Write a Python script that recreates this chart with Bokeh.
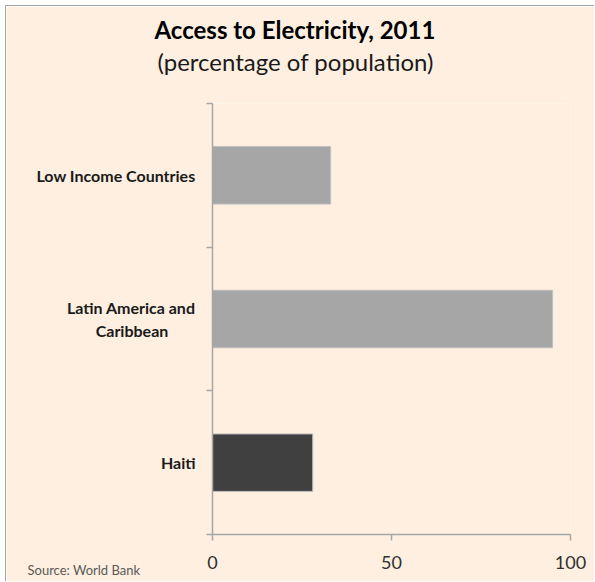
from bokeh.plotting import figure
from bokeh.models import Range1d, FixedTicker, Title
from bokeh.embed import file_html
from bokeh.resources import INLINE

# Data
categories = ["Low Income Countries", "Latin America and Caribbean", "Haiti"]
tick_labels = ["Low Income Countries", "Latin America and\nCaribbean\u00a0\u00a0\u00a0\u00a0\u00a0\u00a0\u00a0", "Haiti"]
values = [33, 95, 28]
bar_colors = ["#A6A6A6", "#A6A6A6", "#404040"]
x_ticks = [0, 50, 100]

title_text = "Access to Electricity, 2011"
subtitle_text = "(percentage of population)"
source_text = "Source: World Bank"

FONT = "Lato"
BG = "#FEEFE0"

n = len(categories)
y_pos = [n - i - 0.5 for i in range(n)]
boundaries = list(range(n + 1))

p = figure(width=589, height=576, output_backend="svg", toolbar_location=None,
           x_range=Range1d(0, 100), y_range=Range1d(0, n),
           min_border_left=206, min_border_right=25, min_border_top=97, min_border_bottom=48)
p.background_fill_color = BG
p.border_fill_color = BG
p.outline_line_color = None
p.styles = {"margin-left": "5px", "margin-top": "5px",
            "border-left": "1px solid #A6A6A6", "border-top": "1px solid #A6A6A6"}

# main title (outermost)
p.title.text = title_text
p.title.text_font = FONT
p.title.text_font_size = "24px"
p.title.text_font_style = "bold"
p.title.text_color = "#000000"
p.title.align = "left"
p.title.offset = -58
p.title.standoff = -54

# subtitle (closest to plot)
p.add_layout(Title(text=subtitle_text, text_font=FONT, text_font_size="24px",
                   text_font_style="normal", text_color="#1a1a1a", align="left",
                   offset=-55, standoff=56), "above")
p.add_layout(Title(text=source_text, text_font=FONT, text_font_size="13px",
                   text_font_style="normal", text_color="#595959", align="left",
                   vertical_align="top", offset=-185, standoff=-20), "below")

p.hbar(y=y_pos, right=values, left=0, height=0.4, fill_color=bar_colors,
       line_color="#BFBFBF", line_width=1)

p.xgrid.visible = False
p.ygrid.visible = False

ax = p.xaxis[0]
ax.ticker = FixedTicker(ticks=x_ticks)
ax.axis_line_color = "#A6A6A6"
ax.axis_line_width = 1.5
ax.major_tick_line_color = "#A6A6A6"
ax.major_tick_line_width = 1.5
ax.major_tick_out = 6
ax.major_tick_in = 0
ax.minor_tick_line_color = None
ax.major_label_text_font = FONT
ax.major_label_text_font_size = "18px"
ax.major_label_text_color = "#303030"
ax.major_label_standoff = 15

ay = p.yaxis[0]
ay.ticker = FixedTicker(ticks=y_pos, minor_ticks=boundaries)
ay.axis_line_color = "#A6A6A6"
ay.axis_line_width = 1.5
ay.major_tick_line_color = None
ay.major_tick_out = 0
ay.major_tick_in = 0
ay.minor_tick_line_color = "#A6A6A6"
ay.minor_tick_line_width = 1.5
ay.minor_tick_out = 6
ay.minor_tick_in = 0
ay.major_label_overrides = {y: lbl for y, lbl in zip(y_pos, tick_labels)}
ay.major_label_text_font = FONT
ay.major_label_text_font_style = "bold"
ay.major_label_text_font_size = "16px"
ay.major_label_text_color = "#1a1a1a"
ay.major_label_standoff = 11

open("out.html", "w").write(file_html(p, INLINE))
